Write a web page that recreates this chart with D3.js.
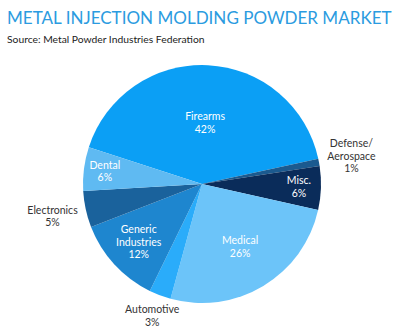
<!DOCTYPE html>
<html>
<head>
<meta charset="utf-8">
<script src="https://cdn.jsdelivr.net/npm/d3@7"></script>
<style>
  html, body { margin: 0; padding: 0; background: #fff; }
  svg { display: block; font-family: Lato, "Open Sans", sans-serif; }
</style>
</head>
<body>
<svg id="chart" width="399" height="332"></svg>
<script>
// ---- data ----
const categories = ["Firearms", "Defense/\nAerospace", "Misc.", "Medical", "Automotive", "Generic\nIndustries", "Electronics", "Dental"];
const shares = [42, 1, 6, 26, 3, 12, 5, 6];
const sliceColors = ["#0b9ff5", "#1b5a8f", "#0a2c5a", "#6cc4f9", "#2aacfa", "#1e86cf", "#1a629c", "#5fbaf2"];
const titleText = "METAL INJECTION MOLDING POWDER MARKET";
const sourceText = "Source: Metal Powder Industries Federation";

// ---- layout ----
const W = 399, H = 332;
const cx = 202, cy = 184, R = 119;
const startDeg = -72;
const labelLayout = {
  "Firearms": { r: 61, outside: false },
  "Defense/\nAerospace": { r: 152, outside: true },
  "Misc.": { r: 97, outside: false },
  "Medical": { r: 74, outside: false },
  "Automotive": { r: 141, outside: true },
  "Generic\nIndustries": { r: 86, outside: false },
  "Electronics": { r: 153, outside: true },
  "Dental": { r: 98, outside: false }
};

const svg = d3.select("#chart");

const title = svg.append("text")
  .attr("x", 0).attr("y", 0)
  .attr("fill", "#2b9be0")
  .attr("font-size", 18)
  .text(titleText);
// condense title horizontally to the width it occupies in the reference
const tw = title.node().getComputedTextLength();
const sx = Math.min(1, 385 / tw);
title.attr("transform", `translate(7,24) scale(${sx},1)`);

svg.append("text")
  .attr("x", 7).attr("y", 43)
  .attr("fill", "#222")
  .attr("font-size", 10.3)
  .text(sourceText);

const data = categories.map((c, i) => ({ cat: c, value: shares[i], color: sliceColors[i] }));

const pie = d3.pie()
  .sort(null)
  .value(d => d.value)
  .startAngle(startDeg * Math.PI / 180)
  .endAngle((startDeg + 360) * Math.PI / 180);

const arcs = pie(data);
const arc = d3.arc().innerRadius(0).outerRadius(R);

const g = svg.append("g").attr("transform", `translate(${cx},${cy})`);

g.selectAll("path.slice")
  .data(arcs)
  .join("path")
  .attr("class", "slice")
  .attr("d", arc)
  .attr("fill", d => d.data.color);

const lineH = 12.7;
g.selectAll("text.lbl")
  .data(arcs)
  .join("text")
  .attr("class", "lbl")
  .attr("font-size", 10.5)
  .attr("text-anchor", "middle")
  .attr("fill", d => labelLayout[d.data.cat].outside ? "#333" : "#fff")
  .each(function(d) {
    const lay = labelLayout[d.data.cat];
    const mid = (d.startAngle + d.endAngle) / 2;
    const x = Math.sin(mid) * lay.r;
    const y = -Math.cos(mid) * lay.r;
    const lines = d.data.cat.split("\n").concat([d.data.value + "%"]);
    const blockTop = y - (lines.length * lineH) / 2;
    const t = d3.select(this);
    lines.forEach((ln, k) => {
      t.append("tspan")
        .attr("x", x)
        .attr("y", blockTop + (k + 1) * lineH - 3)
        .text(ln);
    });
  });
</script>
</body>
</html>
